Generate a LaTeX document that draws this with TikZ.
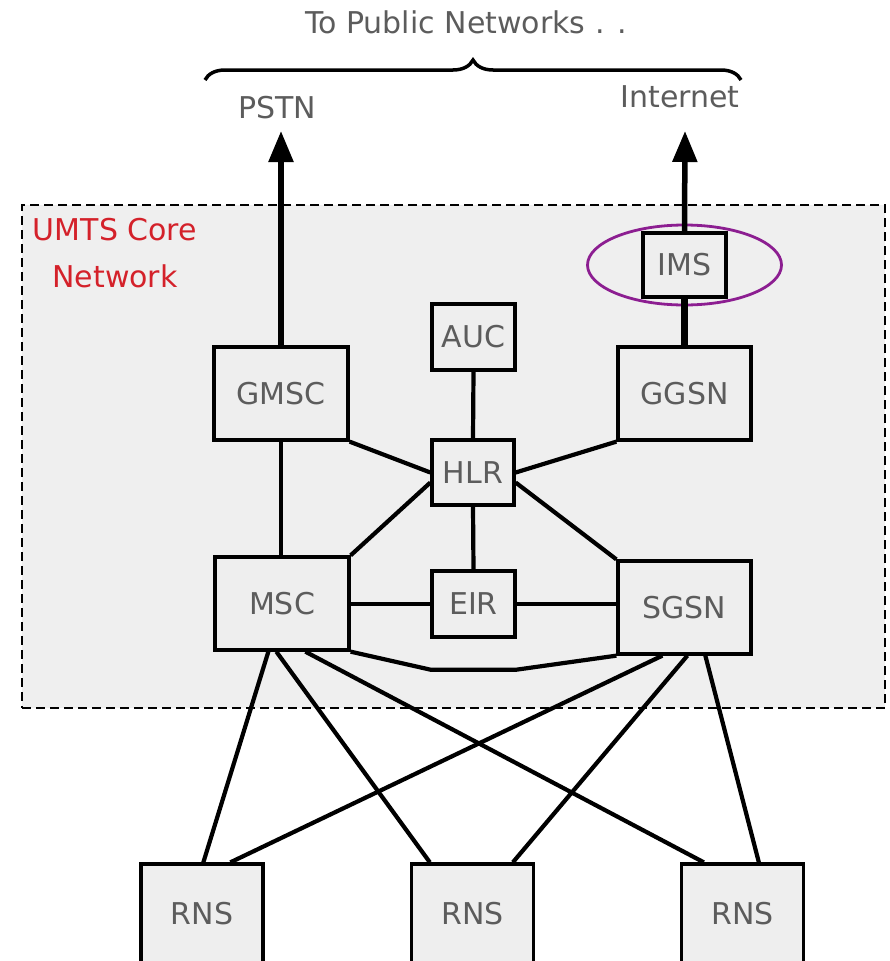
\documentclass[tikz,border=0pt]{standalone}
\usepackage{fontspec}
\setmainfont{DejaVu Sans}
\usetikzlibrary{arrows.meta,decorations.pathreplacing,calc}
\definecolor{txtgrey}{RGB}{92,92,92}
\definecolor{coregrey}{RGB}{239,239,239}
\definecolor{boxgrey}{RGB}{238,238,238}
\definecolor{umtsred}{RGB}{212,33,42}
\definecolor{imspurple}{RGB}{140,30,145}
\begin{document}
\begin{tikzpicture}[x=1pt,y=-1pt,
  netbox/.style={draw=black,fill=boxgrey,line width=3.3pt,inner sep=0pt,
    text=txtgrey,font=\fontsize{30}{35}\selectfont},
  lbl/.style={text=txtgrey,font=\fontsize{30}{35}\selectfont,inner sep=0pt},
  link/.style={line width=4.2pt,line join=miter},
  uplink/.style={line width=5.5pt,-{Triangle[length=31pt,width=24pt]}},
  fatlink/.style={line width=7pt}]
\useasboundingbox (0,0) rectangle (889,961);
% core network area
\node[draw=black,fill=coregrey,line width=2.8pt,dash pattern=on 9pt off 5pt,
  inner sep=0pt,minimum width=863pt,minimum height=503pt] (core) at (453.5,456.5) {};
\node[text=umtsred,font=\fontsize{30}{47}\selectfont,align=center,inner sep=0pt] (umts) at (115,253) {UMTS Core\\Network};
% top labels
\node[lbl] (pub) at (466,22) {To Public Networks . .};
\node[lbl] (pstn) at (277,108) {PSTN};
\node[lbl] (inet) at (680,97) {Internet};
\coordinate (bl) at (205,80);
\coordinate (br) at (741,80);
\draw[line width=3.5pt,decorate,decoration={brace,amplitude=20pt}] (bl) -- (br);
% boxes
\node[netbox,minimum width=134pt,minimum height=93pt] (gmsc) at (281,393.5) {GMSC};
\node[netbox,minimum width=83pt,minimum height=66pt] (auc) at (473.5,337) {AUC};
\node[netbox,minimum width=133pt,minimum height=93pt] (ggsn) at (684.5,393.5) {GGSN};
\node[netbox,minimum width=82pt,minimum height=65pt] (hlr) at (473,472.5) {HLR};
\node[netbox,minimum width=134pt,minimum height=93pt] (msc) at (282,603.5) {MSC};
\node[netbox,minimum width=83pt,minimum height=66pt] (eir) at (473.5,604) {EIR};
\node[netbox,minimum width=133pt,minimum height=93pt] (sgsn) at (684.5,607.5) {SGSN};
\node[netbox,minimum width=83pt,minimum height=64pt] (ims) at (684.5,265) {IMS};
\node[netbox,minimum width=122pt,minimum height=120pt] (rns1) at (202,924) {\raisebox{22pt}{RNS}};
\node[netbox,minimum width=122pt,minimum height=120pt] (rns2) at (472.5,924) {\raisebox{22pt}{RNS}};
\node[netbox,minimum width=122pt,minimum height=120pt] (rns3) at (742.5,924) {\raisebox{22pt}{RNS}};
% IMS ellipse
\draw[imspurple,line width=2.8pt] (ims.center) ellipse [x radius=97pt,y radius=40pt];
% uplinks
\coordinate (pstntip) at (281,131);
\coordinate (inettip) at (685,131);
\draw[uplink] (gmsc.north) -- (pstntip);
\draw[uplink] (ims.north) -- (inettip);
\draw[fatlink] (ggsn.north) -- (ims.south);
% core links
\draw[link] (gmsc.south) -- (gmsc.south |- msc.north);
\draw[link] (gmsc.south east) -- (hlr.west);
\draw[link] (auc.south) -- (hlr.north);
\draw[link] (ggsn.south west) -- (hlr.east);
\draw[link] ([yshift=-10pt]hlr.west) -- (msc.north east);
\draw[link] ([yshift=-10pt]hlr.east) -- (sgsn.north west);
\draw[link] (hlr.south) -- (eir.north);
\draw[link] (msc.east |- eir.west) -- (eir.west);
\draw[link] (eir.east) -- (sgsn.west |- eir.east);
\draw[link] (msc.south east) -- ([yshift=-31pt]eir.south west) -- ([yshift=-31pt]eir.south east) -- (sgsn.south west);
% access links
\draw[link] ([xshift=55pt]msc.south west) -- ([xshift=64pt]rns1.north west);
\draw[link] ([xshift=63pt]msc.south west) -- ([xshift=20pt]rns2.north west);
\draw[link] ([xshift=92pt]msc.south west) -- ([xshift=24pt]rns3.north west);
\draw[link] ([xshift=46pt]sgsn.south west) -- ([xshift=91pt]rns1.north west);
\draw[link] ([xshift=71pt]sgsn.south west) -- ([xshift=103pt]rns2.north west);
\draw[link] ([xshift=89pt]sgsn.south west) -- ([xshift=79pt]rns3.north west);
\end{tikzpicture}
\end{document}
